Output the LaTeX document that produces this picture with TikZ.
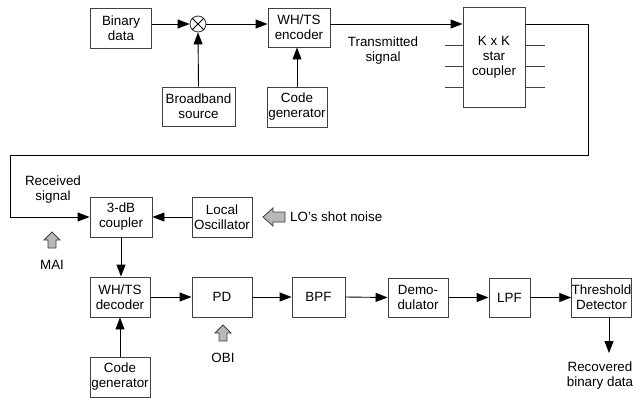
\documentclass[tikz,border=0pt]{standalone}
\usepackage{fontspec}
\setmainfont{Liberation Sans}
\usetikzlibrary{arrows.meta}
\begin{document}
\begin{tikzpicture}[x=1pt,y=-1pt,
  blk/.style={draw=black!75, line width=0.9pt, fill=white, inner sep=0pt, align=center,
    font=\fontsize{13.4}{15}\selectfont},
  lbl/.style={inner sep=0pt, align=center, font=\fontsize{13.4}{15}\selectfont},
  arr/.style={-{Triangle[length=12pt,width=9pt]}, line width=0.9pt},
  ln/.style={line width=0.9pt, draw=black!75},
  barrow/.style={draw=black!75, line width=0.8pt, fill=black!28}]
\useasboundingbox (0,0) rectangle (636,399);
% transmitter
\node[blk, minimum width=61pt, minimum height=40pt] (bin) at (121,28) {Binary\\data};
\node[draw=black!75, line width=0.9pt, circle, minimum size=16pt, inner sep=0pt] (m) at (198,24) {};
\draw[line width=0.8pt] (m.45) -- (m.225) (m.135) -- (m.315);
\node[blk, minimum width=62pt, minimum height=39pt] (enc) at (299,27.5) {WH/TS\\encoder};
\node[blk, minimum width=73pt, minimum height=39pt] (bb) at (198.5,106.5) {Broadband\\source};
\node[blk, minimum width=60pt, minimum height=40pt] (cg1) at (297,107) {Code\\generator};
\node[blk, minimum width=62pt, minimum height=100pt] (star) at (494,57) {K x K\\star\\coupler};
\foreach \yy in {45,66,87}{
  \draw[ln] (445,\yy) -- (star.west |- 0,\yy);
  \draw[ln] (star.east |- 0,\yy) -- (545,\yy);
}
\draw[arr] (bin.east |- m) -- (m.west);
\draw[arr] (bb.north) -- (m.south);
\draw[arr] (m.east) -- (enc.west |- m);
\draw[arr] (cg1.north) -- (enc.south -| cg1.north);
\draw[arr] (enc.east |- m) -- (star.west |- m);
\node[lbl] (tx) at (383,50.5) {Transmitted\\signal};
% receiver
\node[blk, minimum width=62pt, minimum height=40pt] (cp) at (121,217) {3-dB\\coupler};
\node[blk, minimum width=60pt, minimum height=40pt] (lo) at (222,217) {Local\\Oscillator};
\node[blk, minimum width=60pt, minimum height=40pt] (dec) at (120,297) {WH/TS\\decoder};
\node[blk, minimum width=60pt, minimum height=40pt] (pd) at (222,297) {PD};
\node[blk, minimum width=53pt, minimum height=40pt] (bpf) at (318.5,297) {BPF};
\node[blk, minimum width=60pt, minimum height=39pt] (dem) at (418,297.5) {Demo-\\dulator};
\node[blk, minimum width=41pt, minimum height=39pt] (lpf) at (509.5,297.5) {LPF};
\node[blk, minimum width=57pt, minimum height=39pt] (td) at (601.5,297.5) {Threshold\\Detector};
\node[blk, minimum width=60pt, minimum height=40pt] (cg2) at (120,377) {Code\\generator};
\coordinate (c1) at (588,24);
\coordinate (c2) at (588,155);
\coordinate (c3) at (10,155);
\coordinate (c4) at (10,217);
\draw[arr] (star.east |- c1) -- (c1) -- (c2) -- (c3) -- (c4) -- (cp.west);
\draw[arr] (lo.west) -- (cp.east);
\draw[arr] (cp.south) -- (dec.north -| cp.south);
\draw[arr] (cg2.north) -- (dec.south);
\draw[arr] (dec.east) -- (pd.west);
\draw[arr] (pd.east) -- (bpf.west);
\draw[arr] (bpf.east) -- (dem.west);
\draw[arr] (dem.east) -- (lpf.west);
\draw[arr] (lpf.east) -- (td.west);
\coordinate (out) at (609,353);
\draw[arr] (td.south -| out) -- (out);
\node[lbl] (rx) at (53,190) {Received\\signal};
\node[lbl] (mai) at (52,265) {MAI};
\node[lbl, anchor=west] (shot) at (290,217) {LO's shot noise};
\node[lbl] (obi) at (223,358) {OBI};
\node[lbl] (rec) at (600,376) {Recovered\\binary data};
% block arrows
\draw[barrow] (52,232) -- (60,240) -- (56,240) -- (56,248) -- (48,248) -- (48,240) -- (44,240) -- cycle;
\draw[barrow] (223,325) -- (231,333) -- (227,333) -- (227,341) -- (219,341) -- (219,333) -- (215,333) -- cycle;
\draw[barrow] (263,217) -- (273,208) -- (273,212) -- (285,212) -- (285,222) -- (273,222) -- (273,226) -- cycle;
\end{tikzpicture}
\end{document}
